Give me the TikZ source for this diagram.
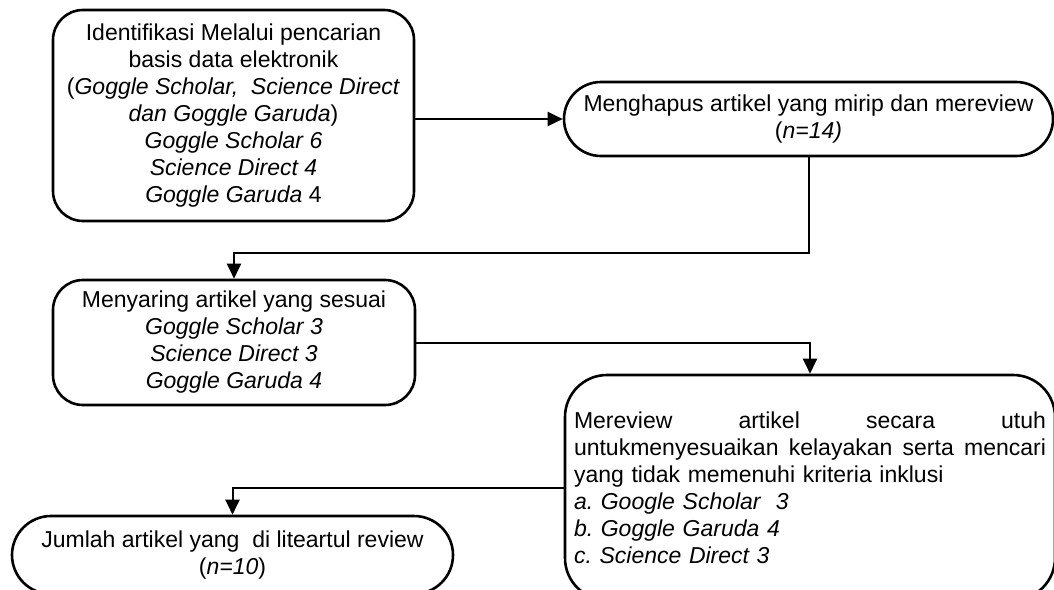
\documentclass[tikz,border=0pt]{standalone}
\usepackage{fontspec}
\setmainfont{Liberation Sans}
\usepackage{tikz}
\usetikzlibrary{arrows.meta}
\usetikzlibrary{positioning}
\frenchspacing

\tikzset{
    flowbox/.style={draw=black, line width=2.6pt, align=center, inner sep=0pt,
                    font=\fontsize{23}{27}\selectfont},
    flowline/.style={draw=black, line width=2pt, -{Triangle[length=15pt, width=14pt]}},
}

\begin{document}
\begin{tikzpicture}[x=1pt, y=-1pt]
            % Frame to ensure alignment:
            \useasboundingbox                                                 (0, 0) rectangle (1054, 589);
            \clip                                                             (0, 0) rectangle (1054, 589);
            % Identification
            \node[flowbox, rounded corners=30pt, minimum width=361pt, minimum height=211pt] (ident)  at (233.5, 115.5)
                 {Identifikasi Melalui pencarian\\ basis data elektronik\\
                  (\textit{Goggle Scholar,~ Science Direct}\\ \textit{dan Goggle Garuda})\\
                  \textit{Goggle Scholar 6}\\ \textit{Science Direct 4}\\ \textit{Goggle Garuda} 4};
            % Remove duplicates
            \node[flowbox, rounded corners=37pt, minimum width=489pt, minimum height=74pt]  (hapus)  at (808.5, 119.0)
                 {Menghapus artikel yang mirip dan mereview\\ (\textit{n=14)}};
            % Screening
            \node[flowbox, rounded corners=30pt, minimum width=362pt, minimum height=125pt] (saring) at (234.0, 342.5)
                 {Menyaring artikel yang sesuai\\ \textit{Goggle Scholar 3}\\
                  \textit{Science Direct 3}\\ \textit{Goggle Garuda 4}};
            % Full review
            \node[flowbox, rounded corners=42pt, minimum width=490pt, minimum height=225pt,
                  align=left, text width=472pt, inner xsep=9pt]                        (review) at (810.0, 487.5)
                 {Mereview\hfill artikel\hfill secara\hfill utuh\\
                  untukmenyesuaikan\hfill kelayakan\hfill serta\hfill mencari\\
                  yang tidak memenuhi kriteria inklusi\\
                  \textit{a. Google Scholar~ 3}\\ \textit{b. Goggle Garuda 4}\\ \textit{c. Science Direct 3}};
            % Result
            \node[flowbox, rounded corners=39pt, minimum width=441pt, minimum height=78pt]  (jumlah) at (232.5, 555.0)
                 {Jumlah artikel yang~ di liteartul review\\ (\textit{n=10})};
            % Connectors
            \coordinate (turnA) at (0, 253);
            \draw[flowline] (ident.east |- hapus.west) -- (hapus.west);
            \draw[flowline] (hapus.south) -- (hapus.south |- turnA) -| (saring.north);
            \draw[flowline] (saring.east) -| (review.north);
            \draw[flowline] (review.west) -| (jumlah.north);
\end{tikzpicture}
\end{document}
